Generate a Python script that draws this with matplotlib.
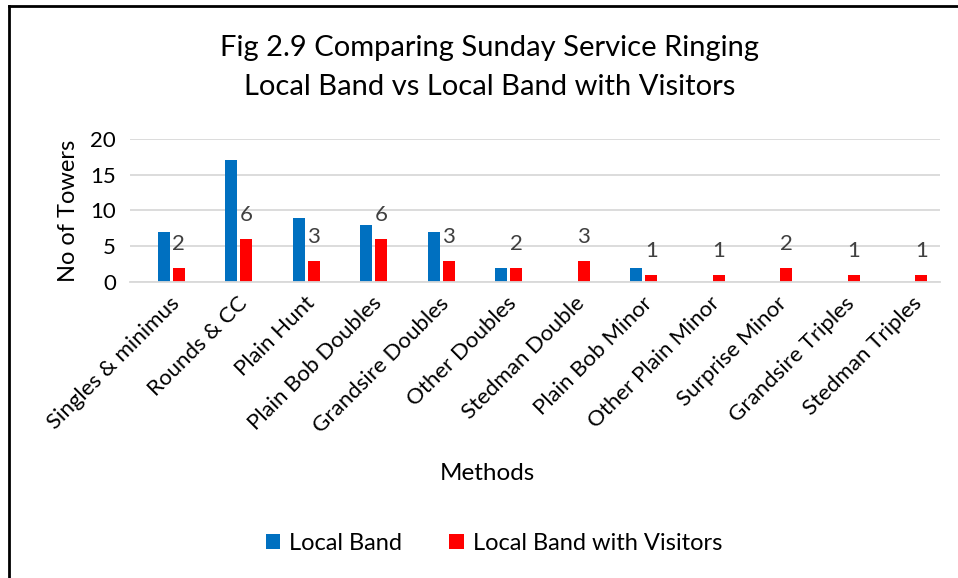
import matplotlib
matplotlib.use("Agg")
from matplotlib import pyplot as plt
from matplotlib.lines import Line2D
import numpy as np

methods = ["Singles & minimus", "Rounds & CC", "Plain Hunt", "Plain Bob Doubles",
           "Grandsire Doubles", "Other Doubles", "Stedman Double", "Plain Bob Minor",
           "Other Plain Minor", "Surprise Minor", "Grandsire Triples", "Stedman Triples"]
local_band = [7, 17, 9, 8, 7, 2, 0, 2, 0, 0, 0, 0]
with_visitors = [2, 6, 3, 6, 3, 2, 3, 1, 1, 2, 1, 1]

plt.rcParams['font.family'] = ['Lato', 'DejaVu Sans']

fig = plt.figure(figsize=(9.58, 5.78), dpi=100)
ax = fig.add_axes([130/958, 1-282/578, 810/958, 143/578])

x = np.arange(len(methods))
w = 0.178
ax.bar(x, local_band, w, color="#0070C0", label="Local Band")
ax.bar(x + 0.222, with_visitors, w, color="#FF0000", label="Local Band with Visitors")

for xi, v in zip(x, with_visitors):
    ax.annotate(str(v), (xi + 0.222, v), xytext=(0, 17), textcoords="offset points",
                ha="center", va="center", fontsize=16, color="#404040")

ax.set_xlim(-0.5, len(methods) - 0.5)
ax.set_ylim(0, 20)
ax.set_yticks([0, 5, 10, 15, 20])
ax.grid(axis="y", color="#D9D9D9", linewidth=1.3)
ax.set_axisbelow(True)
for s in ["top", "right", "left"]:
    ax.spines[s].set_visible(False)
ax.spines["bottom"].set_color("#D9D9D9")
ax.spines["bottom"].set_linewidth(1.3)
ax.tick_params(axis="both", length=0, labelsize=16, colors="#000000")
ax.tick_params(axis="y", pad=10)
ax.set_xticks(x + 0.08)
ax.set_xticklabels(methods, rotation=45, ha="right", rotation_mode="anchor")
ax.tick_params(axis="x", pad=8)
ax.set_ylabel("No of Towers", fontsize=17, labelpad=8)

fig.text(490/958, 1-48/578, "Fig 2.9 Comparing Sunday Service Ringing", ha="center", va="center", fontsize=21)
fig.text(490/958, 1-87/578, "Local Band vs Local Band with Visitors", ha="center", va="center", fontsize=21)
fig.text(487/958, 1-473/578, "Methods", ha="center", va="center", fontsize=17.5)

fig.legend(loc="center", bbox_to_anchor=(494/958, 1-543/578), ncol=2, frameon=False,
           fontsize=17, handlelength=0.6, handleheight=0.6, columnspacing=2.0, handletextpad=0.4)

# figure border, left and top edges only
fig.add_artist(Line2D([9/958, 9/958], [0, 1-6/578], color="black", linewidth=2, transform=fig.transFigure))
fig.add_artist(Line2D([9/958, 1], [1-6/578, 1-6/578], color="black", linewidth=2, transform=fig.transFigure))

fig.savefig("out.png", dpi=100, facecolor="white")
